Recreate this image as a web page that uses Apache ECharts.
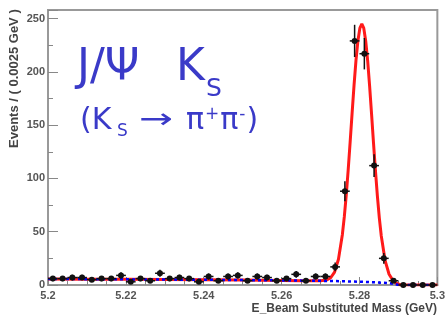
<!DOCTYPE html>
<html>
<head>
<meta charset="utf-8">
<script src="https://cdn.jsdelivr.net/npm/echarts@6/dist/echarts.min.js"></script>
<style>
  html, body { margin: 0; padding: 0; background: #fff; }
  #chart { width: 448px; height: 321px; }
</style>
</head>
<body>
<div id="chart"></div>
<script>
// Bin centres of the beam-substituted mass histogram (GeV), 0.0025 GeV bins
const massBins = [
  5.20125, 5.20375, 5.20625, 5.20875, 5.21125, 5.21375, 5.21625, 5.21875, 5.22125, 5.22375,
  5.22625, 5.22875, 5.23125, 5.23375, 5.23625, 5.23875, 5.24125, 5.24375, 5.24625, 5.24875,
  5.25125, 5.25375, 5.25625, 5.25875, 5.26125, 5.26375, 5.26625, 5.26875, 5.27125, 5.27375,
  5.27625, 5.27875, 5.28125, 5.28375, 5.28625, 5.28875, 5.29125, 5.29375, 5.29625, 5.29875
];
const binHalfWidth = 0.00125;

// Events per bin
const eventCounts = [
  6, 6, 7, 7, 5, 6, 6, 9, 3, 6,
  4, 11, 6, 7, 6, 3, 8, 4, 8, 9,
  4, 8, 7, 4, 6, 10, 4, 8, 8, 17,
  88, 229, 217, 112, 25, 4, 0, 0, 0, 0
];

// Total fit curve (signal + background)
const fitMass = [
  5.2000, 5.2100, 5.2200, 5.2300, 5.2400, 5.2500, 5.2600, 5.2650, 5.2700, 5.2716,
  5.2726, 5.2736, 5.2746, 5.2756, 5.2761, 5.2766, 5.2771, 5.2776, 5.2781, 5.2786,
  5.2791, 5.2796, 5.2801, 5.2806, 5.2811, 5.2816, 5.2821, 5.2826, 5.2831, 5.2836,
  5.2841, 5.2846, 5.2851, 5.2856, 5.2866, 5.2876, 5.2886, 5.2896, 5.2900, 5.2906,
  5.3000
];
const fitTotal = [
  5.6, 5.5, 5.3, 5.1, 4.9, 4.6, 4.3, 4.1, 4.0, 4.7,
  6.8, 12.1, 24.2, 47.2, 63.9, 84.3, 108.0, 134.0, 161.0, 187.3,
  210.7, 229.2, 241.0, 245.1, 241.0, 229.0, 210.4, 186.9, 160.5, 133.4,
  107.2, 83.4, 62.8, 46.0, 22.6, 10.1, 4.2, 1.4, 0.5, 0.0,
  0.0
];

// Background component of the fit
const bkgMass = [5.200, 5.210, 5.220, 5.230, 5.240, 5.250, 5.260, 5.270, 5.275, 5.280, 5.284, 5.287, 5.289, 5.2895, 5.290, 5.300];
const bkgLevel = [5.6, 5.5, 5.3, 5.1, 4.9, 4.6, 4.3, 3.9, 3.6, 3.1, 2.5, 1.9, 1.1, 0.8, 0.0, 0.0];

// Axis ticks
const xTicks = { min: 5.2, max: 5.3, step: 0.02 };
const yTicks = { min: 0, max: 258, step: 50 };

const pair = (xs, ys) => xs.map((x, i) => [x, ys[i]]);

const chart = echarts.init(document.getElementById('chart'), null, { renderer: 'canvas' });

const labelFont = { color: '#555', fontFamily: 'Liberation Sans, Arial, sans-serif', fontWeight: 'bold', fontSize: 11 };
const titleBlue = '#3a3ac8';
const titleFamily = '"DejaVu Sans", sans-serif';

chart.setOption({
  animation: false,
  backgroundColor: '#fff',
  grid: { left: 48, right: 10, top: 10, bottom: 36, show: true, borderColor: '#999', borderWidth: 2, containLabel: false },
  xAxis: {
    type: 'value', min: xTicks.min, max: xTicks.max, interval: xTicks.step,
    axisLine: { show: true, onZero: false, lineStyle: { color: '#999', width: 2 } },
    axisTick: { show: true, inside: true, length: 8, lineStyle: { color: '#888' } },
    minorTick: { show: true, splitNumber: 4, length: 4, lineStyle: { color: '#888' } },
    splitLine: { show: false },
    axisLabel: Object.assign({ margin: 5, formatter: v => String(+v.toFixed(2)) }, labelFont)
  },
  yAxis: {
    type: 'value', min: yTicks.min, max: yTicks.max, interval: yTicks.step,
    axisLine: { show: true, lineStyle: { color: '#999', width: 2 } },
    axisTick: { show: true, inside: true, length: 10, lineStyle: { color: '#888' } },
    minorTick: { show: true, splitNumber: 2, length: 5, lineStyle: { color: '#888' } },
    splitLine: { show: false },
    axisLabel: Object.assign({ margin: 3, formatter: v => (v % 50 === 0 ? String(v) : '') }, labelFont)
  },
  series: [
    {
      type: 'line', data: pair(fitMass, fitTotal), showSymbol: false, symbol: 'none',
      lineStyle: { color: '#ff1a1a', width: 3 }, z: 2
    },
    {
      type: 'line', data: pair(bkgMass, bkgLevel), showSymbol: false, symbol: 'none',
      lineStyle: { color: '#0000ff', width: 2.5, type: [3, 3] }, z: 3
    },
    {
      type: 'custom', z: 4,
      data: pair(massBins, eventCounts),
      renderItem(params, api) {
        const x = api.value(0), n = api.value(1);
        const err = Math.sqrt(n);
        const c = api.coord([x, n]);
        const lo = api.coord([x, n - err]);
        const hi = api.coord([x, n + err]);
        const l = api.coord([x - binHalfWidth, n]);
        const r = api.coord([x + binHalfWidth, n]);
        const stroke = { stroke: '#111', lineWidth: 1.5 };
        return {
          type: 'group',
          children: [
            { type: 'line', shape: { x1: c[0], y1: lo[1], x2: c[0], y2: hi[1] }, style: stroke },
            { type: 'line', shape: { x1: l[0], y1: c[1], x2: r[0], y2: c[1] }, style: stroke },
            { type: 'circle', shape: { cx: c[0], cy: c[1], r: 3 }, style: { fill: '#111' } }
          ]
        };
      }
    }
  ],
  graphic: [
    {
      type: 'text', rotation: Math.PI / 2, x: 8, y: 148,
      style: { text: 'Events / ( 0.0025 GeV )', fill: '#444', font: 'bold 13px "Liberation Sans", Arial, sans-serif' }
    },
    {
      type: 'text',
      style: { text: 'E_Beam Substituted Mass (GeV)', x: 437, y: 309, align: 'right', verticalAlign: 'middle',
               fill: '#444', font: 'bold 12px "Liberation Sans", Arial, sans-serif' }
    },
    {
      type: 'text',
      style: { text: 'J/Ψ', x: 77, y: 69, verticalAlign: 'middle', fill: titleBlue, font: '44px ' + titleFamily }
    },
    {
      type: 'text',
      style: { text: 'K', x: 176, y: 69, verticalAlign: 'middle', fill: titleBlue, font: '44px ' + titleFamily }
    },
    {
      type: 'text',
      style: { text: 'S', x: 206, y: 89, verticalAlign: 'middle', fill: titleBlue, font: '25px ' + titleFamily }
    },
    {
      type: 'text',
      style: { text: '(K', x: 80, y: 121, verticalAlign: 'middle', fill: titleBlue, font: '30px ' + titleFamily }
    },
    {
      type: 'text',
      style: { text: 'S', x: 117, y: 132, verticalAlign: 'middle', fill: titleBlue, font: '17px ' + titleFamily }
    },
    {
      type: 'text', x: 139, y: 121, scaleX: 1.45,
      style: { text: '→', x: 0, y: 0, verticalAlign: 'middle', fill: titleBlue, font: '28px ' + titleFamily }
    },
    {
      type: 'text',
      style: {
        text: '{p|π}{s|+}{p|π}{s|-}{p|)}', x: 186, y: 121, verticalAlign: 'middle',
        rich: {
          p: { fontSize: 30, fontFamily: titleFamily, fill: titleBlue, color: titleBlue, verticalAlign: 'bottom' },
          s: { fontSize: 17, fontFamily: titleFamily, fill: titleBlue, color: titleBlue, verticalAlign: 'top', padding: [0, 1, 0, 1] }
        }
      }
    }
  ]
});
</script>
</body>
</html>
